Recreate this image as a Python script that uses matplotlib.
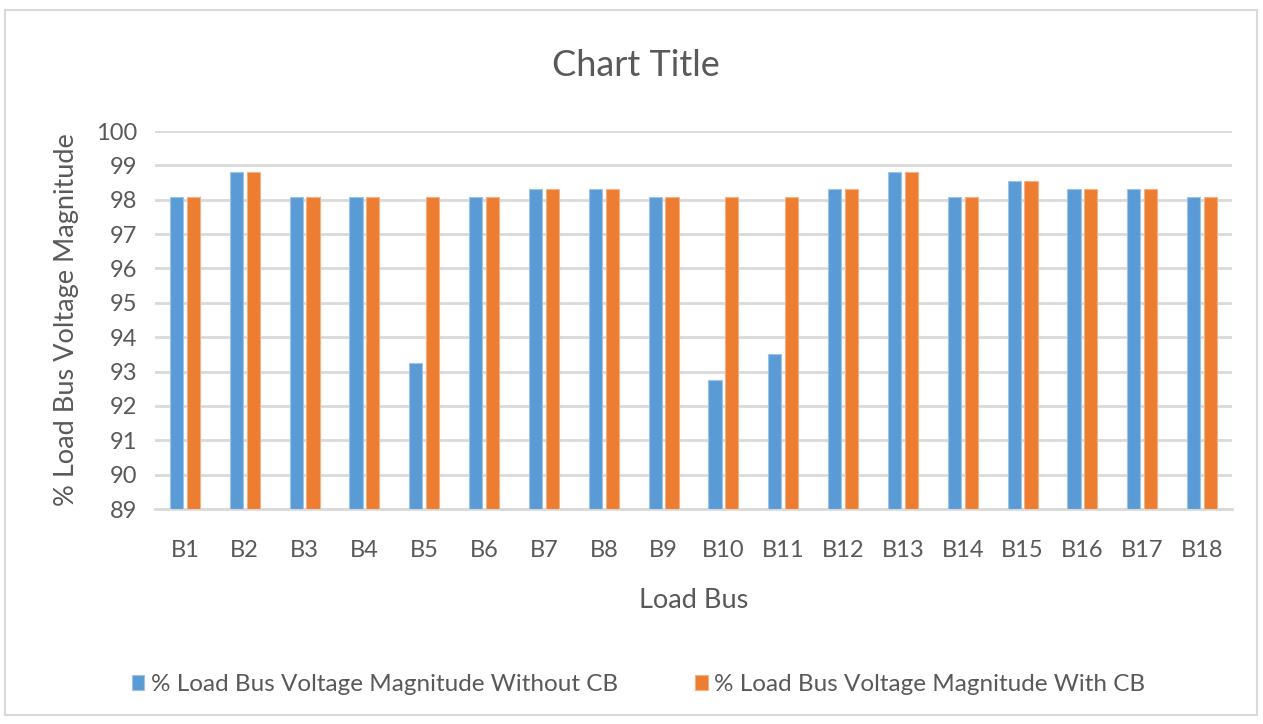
import matplotlib
matplotlib.use("Agg")
import matplotlib.pyplot as plt
import numpy as np
from matplotlib.patches import Rectangle

buses = ["B%d" % i for i in range(1, 19)]
without_cb = [98.08, 98.82, 98.08, 98.08, 93.26, 98.08, 98.3, 98.3, 98.08,
              92.75, 93.5, 98.3, 98.82, 98.08, 98.54, 98.3, 98.3, 98.08]
with_cb = [98.08, 98.82, 98.08, 98.08, 98.08, 98.08, 98.3, 98.3, 98.08,
           98.08, 98.08, 98.3, 98.82, 98.08, 98.54, 98.3, 98.3, 98.08]
yticks = list(range(89, 101))

plt.rcParams['font.family'] = ['Lato', 'DejaVu Sans']
grey = "#595959"
blue = "#5B9BD5"
orange = "#ED7D31"

fig = plt.figure(figsize=(12.63, 7.24), dpi=100)
# outer chart border
fig.patches.append(Rectangle((5 / 1263, 1 - 715 / 724), 1252 / 1263, 705 / 724,
                             transform=fig.transFigure, fill=False,
                             edgecolor="#D9D9D9", linewidth=1.5))

ax = fig.add_axes([155 / 1263, 1 - 509 / 724, (1232 - 155) / 1263, (509 - 131) / 724])
x = np.arange(len(buses))
w = 0.22
ax.bar(x - 0.142, [v - 89 for v in without_cb], w, bottom=89, color=blue,
       edgecolor="#9DC3E6", linewidth=0.8, zorder=3,
       label="% Load Bus Voltage Magnitude Without CB")
ax.bar(x + 0.142, [v - 89 for v in with_cb], w, bottom=89, color=orange,
       edgecolor="#F4B183", linewidth=0.8, zorder=3,
       label="% Load Bus Voltage Magnitude With CB")

ax.set_xlim(-0.5, len(buses) - 0.5)
ax.set_ylim(89, 100)
ax.set_yticks(yticks)
ax.set_xticks(x)
ax.set_xticklabels(buses)
ax.grid(axis="y", color="#D9D9D9", linewidth=2, zorder=0)
for s in ["top", "right", "left"]:
    ax.spines[s].set_visible(False)
ax.spines["bottom"].set_color("#D9D9D9")
ax.spines["bottom"].set_linewidth(2)
ax.tick_params(length=0, labelsize=17, labelcolor=grey)
ax.tick_params(axis="x", pad=22)
ax.tick_params(axis="y", pad=13)

ax.set_xlabel("Load Bus", fontsize=19.5, color=grey, labelpad=20)
ax.set_ylabel("% Load Bus Voltage Magnitude", fontsize=19.5, color=grey, labelpad=12)
fig.text(636 / 1263, 1 - 65 / 724, "Chart Title", ha="center", va="center",
         fontsize=26, color=grey)

ax.legend(loc="center", bbox_to_anchor=(0.449, -0.465), ncol=2, frameon=False,
          fontsize=17.5, labelcolor=grey, handlelength=0.5, handleheight=0.6,
          columnspacing=3.2, handletextpad=0.25)

fig.savefig("out.png", dpi=100)
